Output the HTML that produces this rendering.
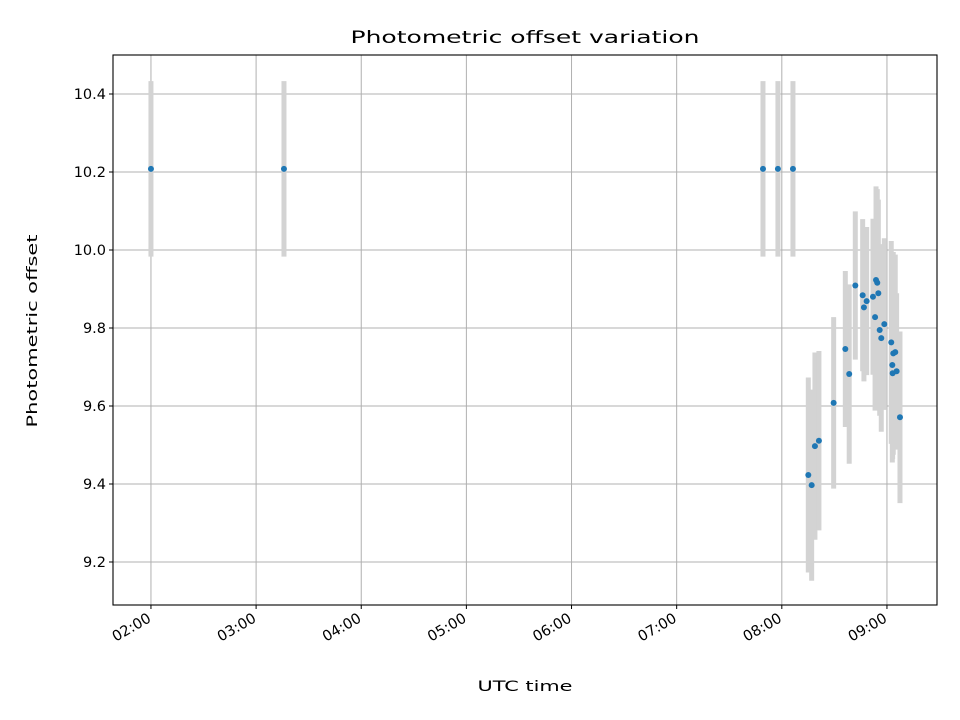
<!DOCTYPE html>
<html><head><meta charset="utf-8"><style>
html,body{margin:0;padding:0;background:#fff;}
svg{display:block;}
text{font-family:"DejaVu Sans","Liberation Sans",sans-serif;}
</style></head><body>
<svg id="chart" width="960" height="720" viewBox="0 0 960 720">
<rect width="960" height="720" fill="#fff"/>
<g id="grid"></g>
<g id="bars"></g>
<g id="pts"></g>
<rect x="113" y="55" width="824" height="550" fill="none" stroke="#000" stroke-width="1.1"/>
<g id="axes"></g>
<text x="525" y="43" text-anchor="middle" font-size="17" textLength="349" lengthAdjust="spacingAndGlyphs">Photometric offset variation</text>
<text x="525" y="691" text-anchor="middle" font-size="14.5" textLength="95" lengthAdjust="spacingAndGlyphs">UTC time</text>
<text transform="translate(37,331) rotate(-90)" text-anchor="middle" font-size="14.5" textLength="193" lengthAdjust="spacingAndGlyphs">Photometric offset</text>
</svg>
<script>
const times = [2.0,3.265,7.821,7.963,8.106,8.252,8.284,8.315,8.353,8.493,8.604,8.641,8.699,8.769,8.807,8.781,8.867,8.896,8.908,8.918,8.887,8.975,8.931,8.946,9.041,9.060,9.079,9.051,9.054,9.092,9.124];
const offsets = [10.208,10.208,10.208,10.208,10.208,9.423,9.397,9.497,9.511,9.608,9.746,9.682,9.909,9.884,9.869,9.853,9.880,9.923,9.916,9.889,9.828,9.810,9.795,9.774,9.763,9.735,9.738,9.705,9.684,9.689,9.571];
const errors = [0.225,0.225,0.225,0.225,0.225,0.25,0.245,0.24,0.23,0.22,0.2,0.23,0.19,0.195,0.19,0.19,0.2,0.24,0.24,0.24,0.24,0.22,0.22,0.24,0.26,0.26,0.25,0.25,0.22,0.2,0.22];
const yTicks = [9.2,9.4,9.6,9.8,10.0,10.2,10.4];
const xTicks = [2,3,4,5,6,7,8,9];
const xTickLabels = ["02:00","03:00","04:00","05:00","06:00","07:00","08:00","09:00"];

const X0=113,X1=937,Y0=55,Y1=605;
const xMin=1.639,xMax=9.476,yMin=9.0897,yMax=10.5;
const xs=v=>X0+(v-xMin)/(xMax-xMin)*(X1-X0);
const ys=v=>Y1-(v-yMin)/(yMax-yMin)*(Y1-Y0);
const NS="http://www.w3.org/2000/svg";
function mk(tag,attrs,parent){const e=document.createElementNS(NS,tag);for(const k in attrs)e.setAttribute(k,attrs[k]);document.getElementById(parent).appendChild(e);return e;}

yTicks.forEach(t=>{
  const y=ys(t);
  const g=mk('line',{x1:X0,x2:X1,y1:y,y2:y,stroke:'#b0b0b0','stroke-width':1},'grid');
  
  
  const tk=mk('line',{x1:X0-4,x2:X0,y1:y,y2:y,stroke:'#000'},'axes');
  
  
  const tx=mk('text',{x:X0-7,y:y+5,'text-anchor':'end','font-size':14.5},'axes');
  tx.textContent=t.toFixed(1);
  
  
});
xTicks.forEach((t,i)=>{
  const x=xs(t);
  const g=mk('line',{x1:x,x2:x,y1:Y0,y2:Y1,stroke:'#b0b0b0','stroke-width':1},'grid');
  
  
  const tk=mk('line',{x1:x,x2:x,y1:Y1,y2:Y1+4,stroke:'#000'},'axes');
  
  
  const tx=mk('text',{transform:`translate(${x+1},${Y1+16}) rotate(-30)`,'text-anchor':'end','font-size':14.5},'axes');
  tx.textContent=xTickLabels[i];
  
  
});
times.forEach((t,i)=>{
  const x=xs(t);
  const b=mk('line',{x1:x,x2:x,y1:ys(offsets[i]+errors[i]),y2:ys(offsets[i]-errors[i]),stroke:'#d3d3d3','stroke-width':5},'bars');
  
  
});
times.forEach((t,i)=>{
  const c=mk('circle',{cx:xs(t),cy:ys(offsets[i]),r:3,fill:'#1f77b4'},'pts');
  
  
});
</script>
</body></html>
